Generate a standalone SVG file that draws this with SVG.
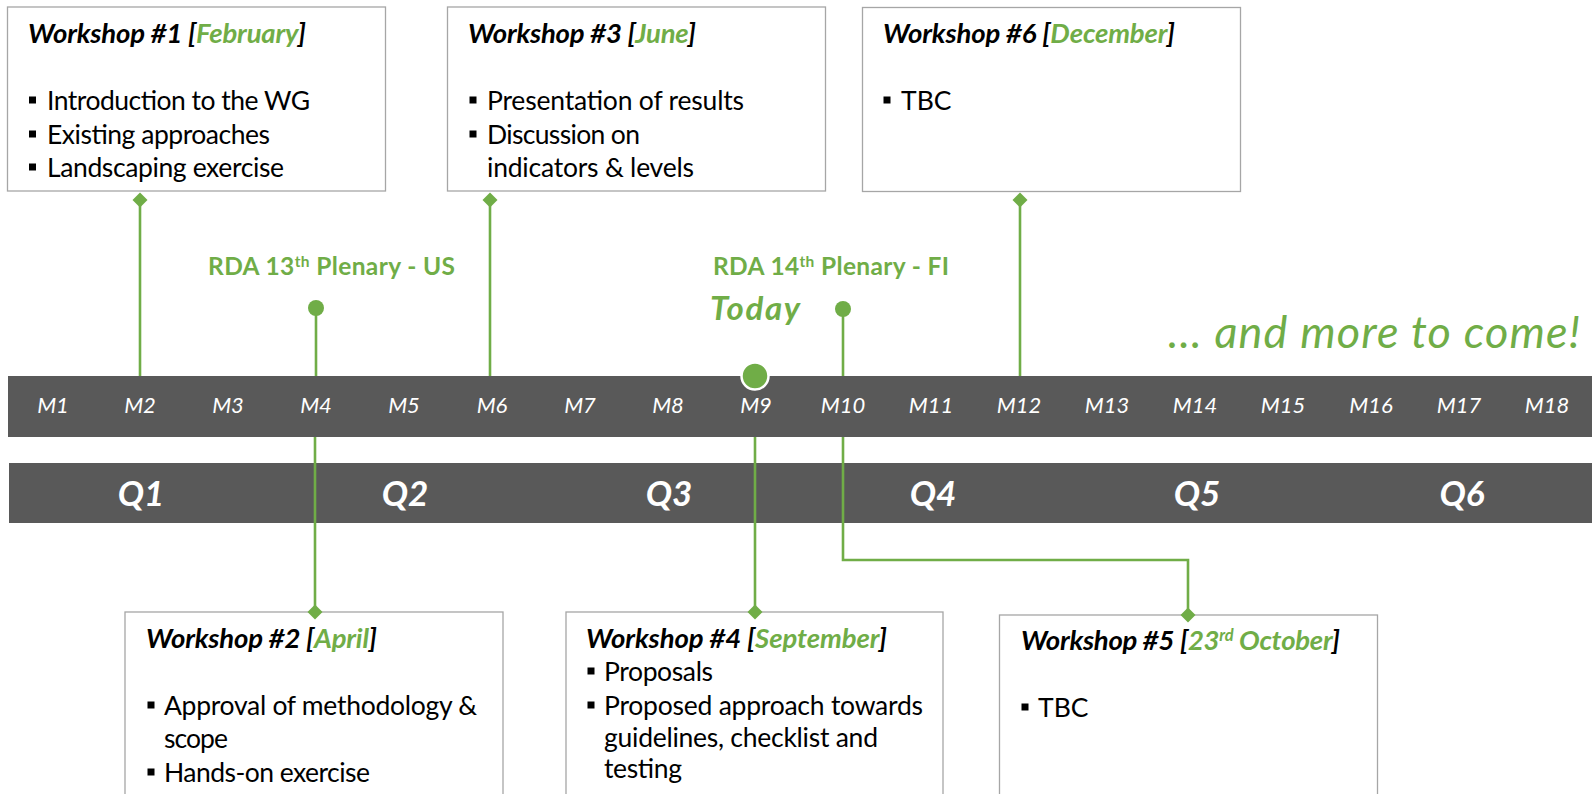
<svg xmlns="http://www.w3.org/2000/svg" width="1592" height="794" viewBox="0 0 1592 794">
<style>
text{font-family:Lato,"Liberation Sans",sans-serif}
.box{fill:#fff;stroke:#a6a6a6;stroke-width:1.3}
.title{font-weight:700;font-style:italic;font-size:27.5px;fill:#000}
.g{fill:#70ad47}
.body{font-size:26.5px;fill:#000}
.sq{fill:#000}
.mo{font-style:italic;font-size:22px;fill:#fff;text-anchor:middle}
.q{font-weight:700;font-style:italic;font-size:35px;fill:#fff;text-anchor:middle}
.bar{fill:#595959}
.conn{stroke:#70ad47;stroke-width:2.6;fill:none}
.dot{fill:#70ad47}
.rda{font-weight:700;font-size:24.5px;fill:#70ad47}
</style>
<defs>
<path id="dia" d="M0,-7.5 L7.5,0 L0,7.5 L-7.5,0Z" fill="#70ad47"/>
<rect id="bul" x="0" y="-13.5" width="7" height="7"/>
</defs>

<g id="timeline">
<rect class="bar" x="8" y="376" width="1584" height="61"/>
<rect class="bar" x="9" y="463" width="1583" height="60"/>
<text class="mo" x="53" y="413">M1</text>
<text class="mo" x="140" y="413">M2</text>
<text class="mo" x="228" y="413">M3</text>
<text class="mo" x="316" y="413">M4</text>
<text class="mo" x="404" y="413">M5</text>
<text class="mo" x="492" y="413">M6</text>
<text class="mo" x="580" y="413">M7</text>
<text class="mo" x="668" y="413">M8</text>
<text class="mo" x="756" y="413">M9</text>
<text class="mo" x="843" y="413">M10</text>
<text class="mo" x="931" y="413">M11</text>
<text class="mo" x="1019" y="413">M12</text>
<text class="mo" x="1107" y="413">M13</text>
<text class="mo" x="1195" y="413">M14</text>
<text class="mo" x="1283" y="413">M15</text>
<text class="mo" x="1371" y="413">M16</text>
<text class="mo" x="1459" y="413">M17</text>
<text class="mo" x="1547" y="413">M18</text>
<text class="q" x="141" y="506">Q1</text>
<text class="q" x="405" y="506">Q2</text>
<text class="q" x="669" y="506">Q3</text>
<text class="q" x="933" y="506">Q4</text>
<text class="q" x="1197" y="506">Q5</text>
<text class="q" x="1462" y="506">Q6</text>
</g>

<g id="connectors">
<line class="conn" x1="140" y1="200" x2="140" y2="376"/>
<line class="conn" x1="490" y1="200" x2="490" y2="376"/>
<line class="conn" x1="1020" y1="200" x2="1020" y2="376"/>
<line class="conn" x1="316" y1="308" x2="316" y2="376"/>
<line class="conn" x1="843" y1="309" x2="843" y2="376"/>
<line class="conn" x1="315" y1="437" x2="315" y2="612"/>
<line class="conn" x1="755" y1="437" x2="755" y2="612"/>
<path class="conn" d="M843,437 V560 H1188 V615"/>
<use href="#dia" x="140" y="200"/>
<use href="#dia" x="490" y="200"/>
<use href="#dia" x="1020" y="200"/>
<circle class="dot" cx="316" cy="308" r="8"/>
<circle class="dot" cx="843" cy="309" r="8"/>
<circle cx="755" cy="376" r="13.5" fill="#70ad47" stroke="#fff" stroke-width="2.5"/>
</g>

<g id="ws1">
<rect class="box" x="7.5" y="7" width="378" height="184"/>
<text class="title" x="28" y="43" textLength="278">Workshop #1 [<tspan class="g">February</tspan>]</text>
<use href="#bul" x="29" y="110" class="sq"/>
<text class="body" x="47" y="110" textLength="263">Introduction to the WG</text>
<use href="#bul" x="29" y="144" class="sq"/>
<text class="body" x="47" y="144" textLength="223">Existing approaches</text>
<use href="#bul" x="29" y="177" class="sq"/>
<text class="body" x="47" y="177" textLength="237">Landscaping exercise</text>
</g>

<g id="ws3">
<rect class="box" x="447.5" y="7" width="378" height="184"/>
<text class="title" x="468" y="43" textLength="228">Workshop #3 [<tspan class="g">June</tspan>]</text>
<use href="#bul" x="469.5" y="110" class="sq"/>
<text class="body" x="487" y="110" textLength="257">Presentation of results</text>
<use href="#bul" x="469.5" y="144" class="sq"/>
<text class="body" x="487" y="144" textLength="153">Discussion on</text>
<text class="body" x="487" y="177" textLength="207">indicators &amp; levels</text>
</g>

<g id="ws6">
<rect class="box" x="862.5" y="7.5" width="378" height="184"/>
<text class="title" x="883" y="43" textLength="292">Workshop #6 [<tspan class="g">December</tspan>]</text>
<use href="#bul" x="883.5" y="110" class="sq"/>
<text class="body" x="901" y="110">TBC</text>
</g>

<g id="ws2">
<rect class="box" x="125" y="612" width="378" height="200"/>
<use href="#dia" x="315" y="612"/>
<text class="title" x="146" y="648" textLength="231">Workshop #2 [<tspan class="g">April</tspan>]</text>
<use href="#bul" x="147.5" y="715" class="sq"/>
<text class="body" x="164" y="715" textLength="313">Approval of methodology &amp;</text>
<text class="body" x="164" y="748" textLength="64">scope</text>
<use href="#bul" x="147.5" y="782" class="sq"/>
<text class="body" x="164" y="782" textLength="206">Hands-on exercise</text>
</g>

<g id="ws4">
<rect class="box" x="566" y="612" width="377" height="200"/>
<use href="#dia" x="755" y="612"/>
<text class="title" x="586" y="648" textLength="301">Workshop #4 [<tspan class="g">September</tspan>]</text>
<use href="#bul" x="587.5" y="681" class="sq"/>
<text class="body" x="604" y="681" textLength="109">Proposals</text>
<use href="#bul" x="587.5" y="715" class="sq"/>
<text class="body" x="604" y="715" textLength="319">Proposed approach towards</text>
<text class="body" x="604" y="747" textLength="274">guidelines, checklist and</text>
<text class="body" x="604" y="778" textLength="78">testing</text>
</g>

<g id="ws5">
<rect class="box" x="999.5" y="615" width="378" height="200"/>
<use href="#dia" x="1188" y="615"/>
<text class="title" x="1021" y="650" textLength="319">Workshop #5 [<tspan class="g">23<tspan font-size="16.5" dy="-9">rd</tspan><tspan dy="9"> October</tspan></tspan>]</text>
<use href="#bul" x="1021.5" y="717" class="sq"/>
<text class="body" x="1038" y="717">TBC</text>
</g>

<g id="rda13">
<text class="rda" x="208" y="275" textLength="247">RDA 13<tspan font-size="15.5" dy="-8">th</tspan><tspan dy="8"> Plenary - US</tspan></text>
</g>
<g id="rda14">
<text class="rda" x="713" y="275" textLength="236">RDA 14<tspan font-size="15.5" dy="-8">th</tspan><tspan dy="8"> Plenary - FI</tspan></text>
</g>
<g id="today">
<text x="710" y="320" font-weight="700" font-style="italic" font-size="33" fill="#70ad47" textLength="90">Today</text>
</g>
<g id="more">
<text x="1168" y="348" font-style="italic" font-size="45" fill="#70ad47" textLength="412">… and more to come!</text>
</g>
</svg>
